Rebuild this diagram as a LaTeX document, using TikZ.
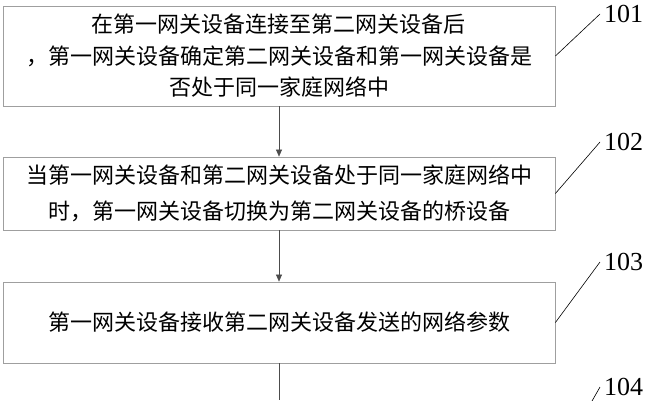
\documentclass[tikz,border=0pt]{standalone}
\usepackage{fontspec}
\setmainfont{Liberation Serif}
\newfontfamily\cjk{Noto Sans CJK SC}
\usetikzlibrary{arrows.meta}

\begin{document}
\begin{tikzpicture}[x=1pt,y=-1pt,
        stepbox/.style={draw=gray!75, line width=0.8pt, minimum width=552pt,
                align=center, inner sep=0pt, font=\cjk\fontsize{22}{31.5}\selectfont},
        tag/.style={font=\fontsize{26}{26}\selectfont, inner xsep=4pt, inner ysep=0pt, anchor=west},
        flow/.style={draw=black!70, line width=0.6pt, -{Triangle[length=7pt,width=6pt]}},
        lead/.style={draw=black, line width=0.6pt}]
        \useasboundingbox (0,0) rectangle (653,400);

        \node (S1) [stepbox, minimum height=100pt] at (279,56) {在第一网关设备连接至第二网关设备后\\
                ，第一网关设备确定第二网关设备和第一网关设备是\\
                否处于同一家庭网络中};
        \node (S2) [stepbox, minimum height=73pt] at (279,193.5) {当第一网关设备和第二网关设备处于同一家庭网络中\\[5pt]
                时，第一网关设备切换为第二网关设备的桥设备};
        \node (S3) [stepbox, minimum height=81pt] at (279,322.5) {第一网关设备接收第二网关设备发送的网络参数};
        \coordinate (S4) at (279,400);

        \draw[flow] (S1) -- (S2);
        \draw[flow] (S2) -- (S3);
        \draw[draw=black!70, line width=0.6pt] (S3) -- (S4);

        % step numbers
        \node (L1) [tag] at (600,14) {101};
        \node (L2) [tag] at (600,142) {102};
        \node (L3) [tag] at (600,262) {103};
        \node (L4) [tag] at (600,387) {104};
        \coordinate (E4) at (592,401);

        \draw[lead] (S1.east) -- (L1.west);
        \draw[lead] (S2.east) -- (L2.west);
        \draw[lead] (S3.east) -- (L3.west);
        \draw[lead] (E4) -- (L4.west);
\end{tikzpicture}
\end{document}
